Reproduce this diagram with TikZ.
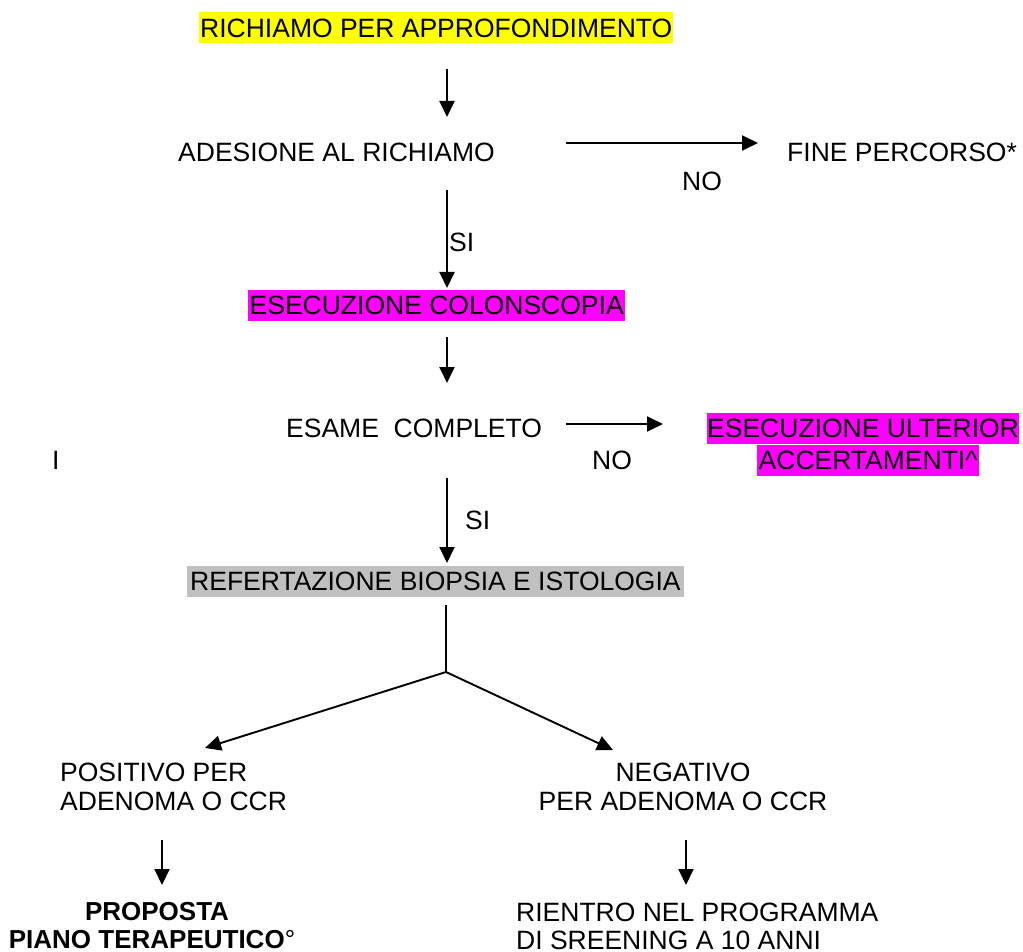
\documentclass[tikz,border=0pt]{standalone}
\usepackage{fontspec}
\setmainfont{Liberation Sans}
\usetikzlibrary{arrows.meta}
\definecolor{hlyellow}{HTML}{FFFF00}
\definecolor{hlmagenta}{HTML}{FF00FF}
\definecolor{hlgray}{HTML}{C0C0C0}
\tikzset{
  txt/.style={inner sep=0pt, font=\fontsize{26.5}{30}\selectfont, text height=25pt, text depth=6pt},
  boldtxt/.style={inner sep=0pt, font=\fontsize{26}{30}\selectfont\bfseries},
  hl/.style={txt, fill=#1, inner xsep=1.5pt},
  arr/.style={line width=1.9pt, -{Triangle[length=16pt,width=15pt]}},
  ln/.style={line width=1.9pt}
}
\begin{document}
\begin{tikzpicture}[x=1pt,y=-1pt]
\useasboundingbox (0,0) rectangle (1023,952);
% texts
\node[hl=hlyellow, anchor=base west, inner xsep=1pt] (richiamo) at (199,37.5) {RICHIAMO PER APPROFONDIMENTO};
\node[txt, anchor=base west] (adesione) at (178,161.5) {ADESIONE AL RICHIAMO};
\node[txt, anchor=base west] (fine) at (787,161.5) {FINE PERCORSO*};
\node[txt, anchor=base west] (no1) at (682,191) {NO};
\node[txt, anchor=base west] (si1) at (449,252) {SI};
\node[hl=hlmagenta, anchor=base west] (colon) at (248,314.5) {ESECUZIONE COLONSCOPIA};
\node[txt, anchor=base west] (esame) at (286,437.5) {ESAME\ \ COMPLETO};
\node[txt, anchor=base west] (no2) at (592,469.5) {NO};
\node[txt, anchor=base west] (ii) at (52,469.5) {I};
\node[hl=hlmagenta, anchor=base west, inner xsep=0pt] (ulterior) at (707,437.5) {ESECUZIONE ULTERIOR};
\node[hl=hlmagenta, anchor=base west] (accert) at (757,469.5) {ACCERTAMENTI\^{}};
\node[txt, anchor=base west] (si2) at (465,529.5) {SI};
\node[hl=hlgray, anchor=base west, inner xsep=3pt] (refert) at (187,590.5) {REFERTAZIONE BIOPSIA E ISTOLOGIA};
\node[txt, anchor=base west] (pos1) at (60,781.5) {POSITIVO PER};
\node[txt, anchor=base west] (pos2) at (60,810.5) {ADENOMA O CCR};
\node[txt, anchor=base] (neg1) at (683,781.5) {NEGATIVO};
\node[txt, anchor=base] (neg2) at (683,810.5) {PER ADENOMA O CCR};
\node[boldtxt, anchor=base] (prop1) at (157,920.5) {PROPOSTA};
\node[boldtxt, anchor=base] (prop2) at (152,948.5) {PIANO TERAPEUTICO\textnormal{°}};
\node[txt, anchor=base west] (rient1) at (516,921.5) {RIENTRO NEL PROGRAMMA};
\node[txt, anchor=base west] (rient2) at (516,949) {DI SREENING A 10 ANNI};
% connector end points
\coordinate (a1s) at (447,69);   \coordinate (a1e) at (447,117);
\coordinate (a2s) at (566,143);  \coordinate (a2e) at (758,143);
\coordinate (a3s) at (447,190);  \coordinate (a3e) at (447,288);
\coordinate (a4s) at (447,337);  \coordinate (a4e) at (447,383);
\coordinate (a5s) at (566,424);  \coordinate (a5e) at (663,424);
\coordinate (a6s) at (447,478);  \coordinate (a6e) at (447,563);
\coordinate (js) at (446,605);   \coordinate (jn) at (446,672);
\coordinate (a7e) at (205,748);  \coordinate (a8e) at (613,750);
\coordinate (a9s) at (162,840);  \coordinate (a9e) at (162,885);
\coordinate (a10s) at (686,840); \coordinate (a10e) at (686,885);
% connectors
\draw[arr] (a1s) -- (a1e);
\draw[arr] (a2s) -- (a2e);
\draw[arr] (a3s) -- (a3e);
\draw[arr] (a4s) -- (a4e);
\draw[arr] (a5s) -- (a5e);
\draw[arr] (a6s) -- (a6e);
\draw[ln] (js) -- (jn);
\draw[arr] (jn) -- (a7e);
\draw[arr] (jn) -- (a8e);
\draw[arr] (a9s) -- (a9e);
\draw[arr] (a10s) -- (a10e);
\end{tikzpicture}
\end{document}
